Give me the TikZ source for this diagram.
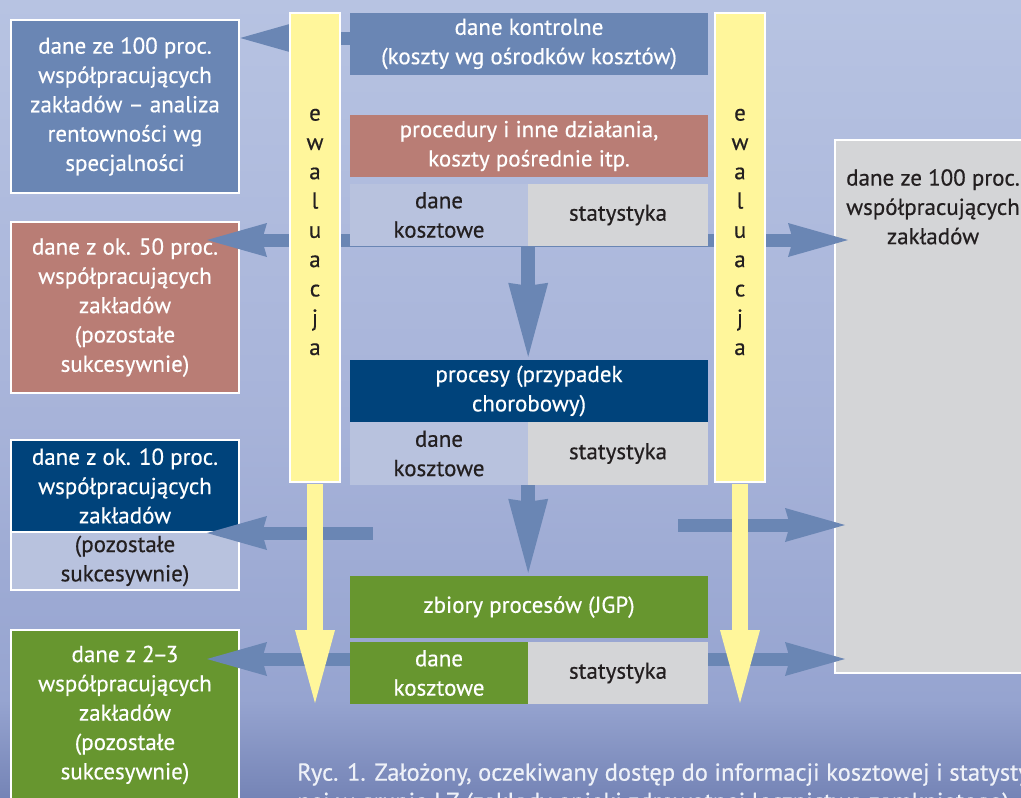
\documentclass[tikz,border=0pt]{standalone}
\usepackage{fontspec}
\setmainfont{PT Sans}[RawFeature={embolden=0.5}]
\usetikzlibrary{arrows.meta}
\definecolor{bgA}{HTML}{B7C3E2}
\definecolor{bgB}{HTML}{A7B3D9}
\definecolor{bgC}{HTML}{96A4D0}
\definecolor{bgD}{HTML}{7584B6}
\definecolor{steel}{HTML}{6A86B4}
\definecolor{rose}{HTML}{B97D75}
\definecolor{navy}{HTML}{00437B}
\definecolor{lav}{HTML}{B8C2DE}
\definecolor{lgray}{HTML}{D4D5D7}
\definecolor{grn}{HTML}{67962F}
\definecolor{ylw}{HTML}{FFF69B}
\definecolor{txtdark}{HTML}{231F20}
\definecolor{capt}{HTML}{EEF1F8}
\pgfdeclarelayer{bglayer}
\pgfdeclarelayer{sidelayer}
\pgfdeclarelayer{arrowlayer}
\pgfdeclarelayer{frontlayer}
\pgfsetlayers{bglayer,sidelayer,arrowlayer,main,frontlayer}
\begin{document}
\begin{tikzpicture}[x=1pt,y=-1pt,
  txt/.style={font=\fontsize{23}{29.3}\selectfont},
  boxbase/.style={rectangle, inner sep=0pt, align=center, txt},
  sidebox/.style={boxbase, draw=white, line width=2.5pt, text=white, minimum width=228pt},
  cbox/.style={boxbase, text=white, minimum height=62pt},
  ybar/.style={rectangle, fill=ylw, draw=white, line width=2pt, minimum width=50pt, minimum height=469pt},
  bluearr/.style={draw=steel, line width=13pt, -{Stealth[length=60pt,width=34pt,inset=5pt,line width=0pt]}},
  bluedbl/.style={draw=steel, line width=13pt, {Stealth[length=60pt,width=34pt,inset=5pt,line width=0pt]}-{Stealth[length=60pt,width=34pt,inset=5pt,line width=0pt]}},
  yarr/.style={draw=ylw, line width=16pt, -{Triangle[length=73pt,width=40pt,line width=0pt]}},
  varr/.style={draw=steel, line width=14pt, -{Stealth[length=74pt,width=40pt,inset=3pt,line width=0pt]}}
]
\useasboundingbox (0,0) rectangle (1021,798);

% background
\begin{pgfonlayer}{bglayer}
\shade[top color=bgA, bottom color=bgB] (0,0) rectangle (1021,420);
\shade[top color=bgB, bottom color=bgC] (0,420) rectangle (1021,700);
\shade[top color=bgC, bottom color=bgD] (0,700) rectangle (1021,798);
\end{pgfonlayer}

% side boxes
\begin{pgfonlayer}{sidelayer}
\node[sidebox, fill=steel, minimum height=173pt] (box1) at (125,106.5)
  {dane ze 100 proc.\\współpracujących\\zakładów – analiza\\rentowności wg\\specjalności};
\node[sidebox, fill=rose, minimum height=171pt] (box2) at (125,307.5)
  {dane z ok. 50 proc.\\współpracujących\\zakładów\\(pozostałe\\sukcesywnie)};
\node[sidebox, fill=navy, minimum height=92pt] (box3) at (125,486)
  {dane z ok. 10 proc.\\współpracujących\\zakładów};
\node[sidebox, fill=lav, text=txtdark, minimum height=58pt] (box3b) at (125,561)
  {(pozostałe\\sukcesywnie)};
\node[sidebox, fill=grn, minimum height=170pt] (box4) at (125,715)
  {dane z 2\kern-2pt–\kern-2pt3\\współpracujących\\zakładów\\(pozostałe\\sukcesywnie)};
\node[rectangle, fill=lgray, draw=white, line width=2.5pt, minimum width=206pt, minimum height=533pt] (big) at (938,406.5) {};
\node[boxbase, text=txtdark, anchor=north] (bigtxt) at (933,169)
  {dane ze 100 proc.\\współpracujących\\zakładów};
\end{pgfonlayer}

% center column
\node[cbox, fill=steel, minimum width=358pt] (kontrolne) at (529,44)
  {dane kontrolne\\(koszty wg ośrodków kosztów)};
\node[cbox, fill=rose, minimum width=358pt] (procedury) at (529,146)
  {procedury i inne działania,\\koszty pośrednie itp.};
\node[cbox, fill=lav, text=txtdark, minimum width=178pt] (dk1) at (439,215) {dane\\kosztowe};
\node[cbox, fill=lgray, text=txtdark, minimum width=180pt] (st1) at (618,215) {statystyka};
\node[cbox, fill=navy, minimum width=358pt] (procesy) at (529,391)
  {procesy (przypadek\\chorobowy)};
\node[cbox, fill=lav, text=txtdark, minimum width=178pt, minimum height=63pt] (dk2) at (439,453.5) {dane\\kosztowe};
\node[cbox, fill=lgray, text=txtdark, minimum width=180pt, minimum height=63pt] (st2) at (618,453.5) {statystyka};
\node[cbox, fill=grn, minimum width=358pt] (zbiory) at (529,607) {zbiory procesów (JGP)};
\node[cbox, fill=grn, minimum width=178pt] (dk3) at (439,673) {dane\\kosztowe};
\node[cbox, fill=lgray, text=txtdark, minimum width=180pt] (st3) at (618,673) {statystyka};

% evaluation bars
\node[ybar] (barL) at (315,247.5) {};
\node[ybar] (barR) at (740,247.5) {};
\node[boxbase, text=txtdark] (ewalL) at (315,232) {e\\w\\a\\l\\u\\a\\c\\j\\a};
\node[boxbase, text=txtdark] (ewalR) at (740,232) {e\\w\\a\\l\\u\\a\\c\\j\\a};

% caption
\node[font=\fontsize{24.5}{29.3}\selectfont, text=capt, anchor=north west, align=left, inner sep=0pt] (caption) at (297,763)
  {Ryc. 1. Założony, oczekiwany dostęp do informacji kosztowej i statystycz-\\nej w grupie LZ (zakłady opieki zdrowotnej lecznictwa zamkniętego).};

% horizontal blue arrows
\coordinate (t2l) at (207,240);
\coordinate (t2r) at (848,240);
\coordinate (s3l) at (373,533);
\coordinate (t3l) at (207,533);
\coordinate (s3r) at (678,525);
\coordinate (t3r) at (845,525);
\coordinate (t4l) at (207,659);
\coordinate (t4r) at (845,659);
\begin{pgfonlayer}{arrowlayer}
\draw[bluearr] (kontrolne.west |- 0,38) -- (box1.east |- 0,38);
\draw[bluedbl] (t2l) -- (t2r);
\draw[bluearr] (s3l) -- (t3l);
\draw[bluearr] (s3r) -- (t3r);
\draw[bluedbl] (t4l) -- (t4r);
\end{pgfonlayer}

% front arrows
\begin{pgfonlayer}{frontlayer}
\draw[yarr] ([yshift=-1.2pt]barL.south) -- (barL.south |- 0,703);
\draw[yarr] ([yshift=-1.2pt]barR.south) -- (barR.south |- 0,703);
\draw[varr] (dk1.south east) -- ([yshift=3pt]dk1.south east |- procesy.north);
\draw[varr] (dk2.south east) -- ([yshift=3pt]dk2.south east |- zbiory.north);
\end{pgfonlayer}
\end{tikzpicture}
\end{document}
